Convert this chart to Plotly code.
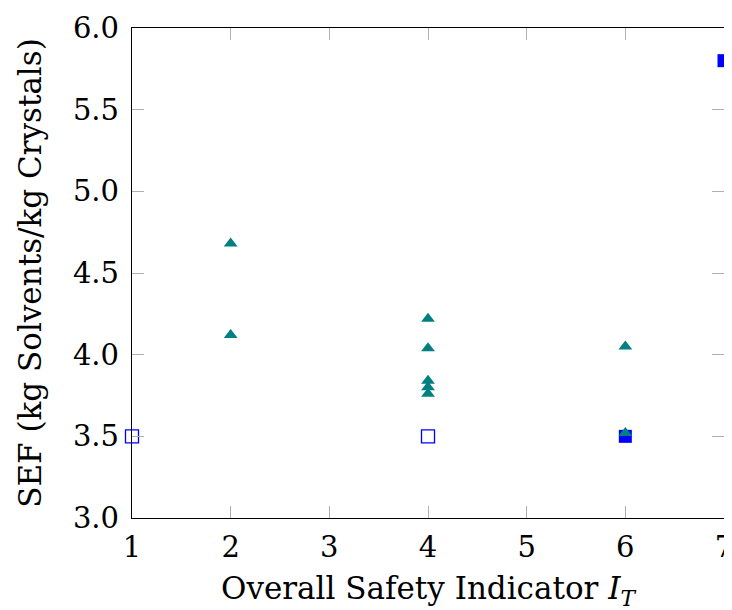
import plotly.graph_objects as go

# Data
tri_x = [2, 2, 4, 4, 4, 4, 4, 6, 6]
tri_y = [4.68, 4.12, 4.22, 4.04, 3.84, 3.80, 3.76, 4.05, 3.52]
open_sq_x = [1, 4]
open_sq_y = [3.5, 3.5]
fill_sq_x = [6, 7]
fill_sq_y = [3.5, 5.8]

x_ticks = [1, 2, 3, 4, 5, 6, 7]
y_ticks = [3.0, 3.5, 4.0, 4.5, 5.0, 5.5, 6.0]

fig = go.Figure()
fig.add_trace(go.Scatter(x=open_sq_x, y=open_sq_y, mode="markers",
                         marker=dict(symbol="square-open", size=13, color="#0000FF",
                                     line=dict(width=1.3, color="#0000FF")),
                         cliponaxis=False, showlegend=False))
fig.add_trace(go.Scatter(x=fill_sq_x, y=fill_sq_y, mode="markers",
                         marker=dict(symbol="square", size=13, color="#0000FF",
                                     line=dict(width=0)),
                         cliponaxis=False, showlegend=False))
fig.add_trace(go.Scatter(x=tri_x, y=tri_y, mode="markers",
                         marker=dict(symbol="triangle-up", size=12, color="#008080",
                                     line=dict(width=0)),
                         cliponaxis=False, showlegend=False))

font_family = "DejaVu Serif"
fig.update_layout(
    width=732, height=610,
    margin=dict(l=124, r=16, t=20, b=100),
    paper_bgcolor="white", plot_bgcolor="white",
    font=dict(family=font_family, size=29, color="black"),
)
fig.update_xaxes(
    range=[1, 7], tickvals=x_ticks, ticktext=[str(v) for v in x_ticks],
    ticks="inside", ticklen=12, tickcolor="#b0b0b0", tickwidth=1.2,
    showline=True, linecolor="black", linewidth=1.3, mirror="ticks",
    showgrid=False, zeroline=False, automargin=False,
    tickfont=dict(size=29), ticklabelstandoff=3,
    title=dict(text="Overall Safety Indicator <i>I</i><sub><i>T</i></sub>",
               font=dict(size=31), standoff=14),
)
fig.update_yaxes(
    range=[3.0, 6.0], tickvals=y_ticks, ticktext=[f"{v:.1f}" for v in y_ticks],
    ticks="inside", ticklen=12, tickcolor="#b0b0b0", tickwidth=1.2,
    showline=True, linecolor="black", linewidth=1.3, mirror="ticks",
    showgrid=False, zeroline=False, automargin=False,
    tickfont=dict(size=29), ticklabelstandoff=6,
    title=dict(text="SEF (kg Solvents/kg Crystals)", font=dict(size=31), standoff=22),
)

fig.write_html("out.html")
